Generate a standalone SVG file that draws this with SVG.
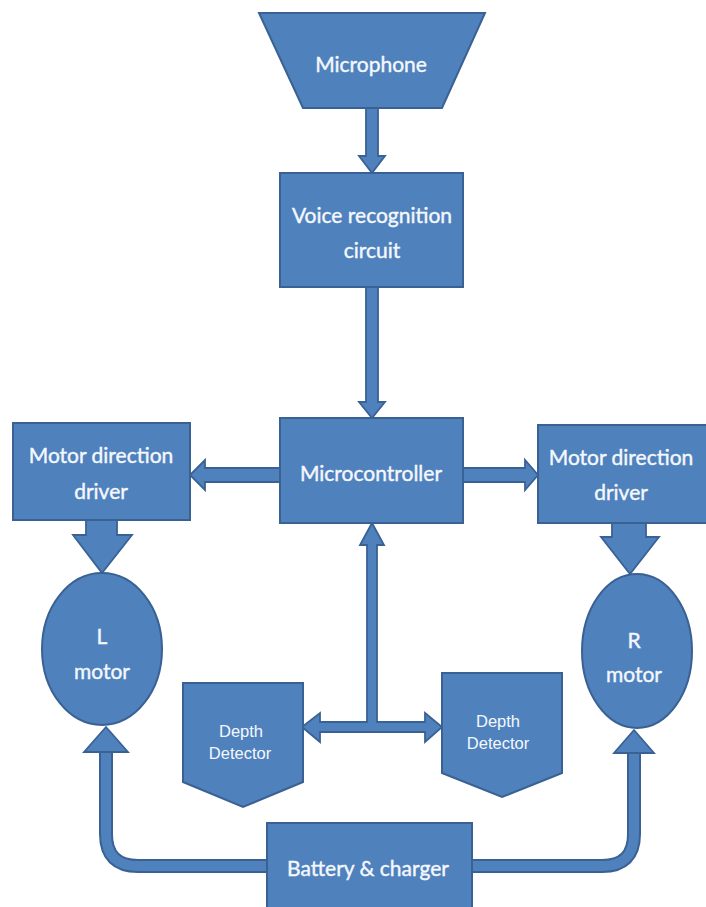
<svg xmlns="http://www.w3.org/2000/svg" width="706" height="907" viewBox="0 0 706 907">
<style>
.n{fill:#4f81bd;stroke:#3a6193;stroke-width:2}
.c{fill:#4f81bd;stroke:#3a6193;stroke-width:1.8;stroke-linejoin:miter}
.t{font-family:Lato,"Liberation Sans",sans-serif;font-size:21px;fill:#f4f8fc;stroke:#f4f8fc;stroke-width:0.4;text-anchor:middle}
.s{font-family:"Liberation Sans",Arial,sans-serif;font-size:16.5px;fill:#f4f8fc;text-anchor:middle}
.po{fill:none;stroke:#3a6193;stroke-width:14}
.pi{fill:none;stroke:#4f81bd;stroke-width:10}
</style>
<rect width="706" height="907" fill="#ffffff"/>
<g id="connectors">
<polygon class="c" points="366,108 378,108 378,156 385,156 372,173 359,156 366,156"/>
<polygon class="c" points="366,287 378,287 378,402 385,402 372,418 359,402 366,402"/>
<polygon class="c" points="280,468 205,468 205,460 190,475 205,490 205,482 280,482"/>
<polygon class="c" points="463,468 525,468 525,460 538,475 525,490 525,482 463,482"/>
<polygon class="c" points="86,520 117,520 117,535 132,535 102,573 73,535 86,535"/>
<polygon class="c" points="612,523 646,523 646,537 659,537 630,574 601,537 612,537"/>
<polygon class="c" points="302,727 320,713 320,722 367,722 367,545 360,545 372,523 384,545 377,545 377,722 425,722 425,713 442,727 425,742 425,732 320,732 320,742"/>
<path class="po" d="M268 866 H138 Q106 866 106 834 V750"/>
<path class="pi" d="M270 866 H138 Q106 866 106 834 V748"/>
<polygon class="c" points="84,752 128,752 106,727"/>
<path class="po" d="M471 866 H602 Q634 866 634 834 V751"/>
<path class="pi" d="M469 866 H602 Q634 866 634 834 V749"/>
<polygon class="c" points="614,753 654,753 634,730"/>
</g>
<g id="microphone">
<polygon class="n" points="259,13 485,13 442,108 303,108"/>
<text class="t" x="371" y="72">Microphone</text>
</g>
<g id="voice">
<rect class="n" x="280" y="173" width="183" height="114"/>
<text class="t" x="372" y="223">Voice recognition</text>
<text class="t" x="372" y="258">circuit</text>
</g>
<g id="microcontroller">
<rect class="n" x="280" y="418" width="183" height="105"/>
<text class="t" x="371" y="481">Microcontroller</text>
</g>
<g id="left-driver">
<rect class="n" x="13" y="423" width="177" height="97"/>
<text class="t" x="101" y="463">Motor direction</text>
<text class="t" x="101" y="499">driver</text>
</g>
<g id="right-driver">
<rect class="n" x="538" y="425" width="172" height="98"/>
<text class="t" x="621" y="465">Motor direction</text>
<text class="t" x="621" y="500">driver</text>
</g>
<g id="l-motor">
<ellipse class="n" cx="102" cy="649" rx="60" ry="76"/>
<text class="t" x="102" y="644">L</text>
<text class="t" x="102" y="679">motor</text>
</g>
<g id="r-motor">
<ellipse class="n" cx="637" cy="651" rx="55" ry="77"/>
<text class="t" x="634" y="648">R</text>
<text class="t" x="634" y="682">motor</text>
</g>
<g id="depth-left">
<polygon class="n" points="183,683 303,683 303,782 243,807 183,782"/>
<text class="s" x="241" y="737">Depth</text>
<text class="s" x="240" y="759">Detector</text>
</g>
<g id="depth-right">
<polygon class="n" points="442,673 562,673 562,773 502,797 442,773"/>
<text class="s" x="498" y="727">Depth</text>
<text class="s" x="498" y="749">Detector</text>
</g>
<g id="battery">
<rect class="n" x="267" y="823" width="205" height="92"/>
<text class="t" x="368" y="876">Battery &amp; charger</text>
</g>
</svg>
